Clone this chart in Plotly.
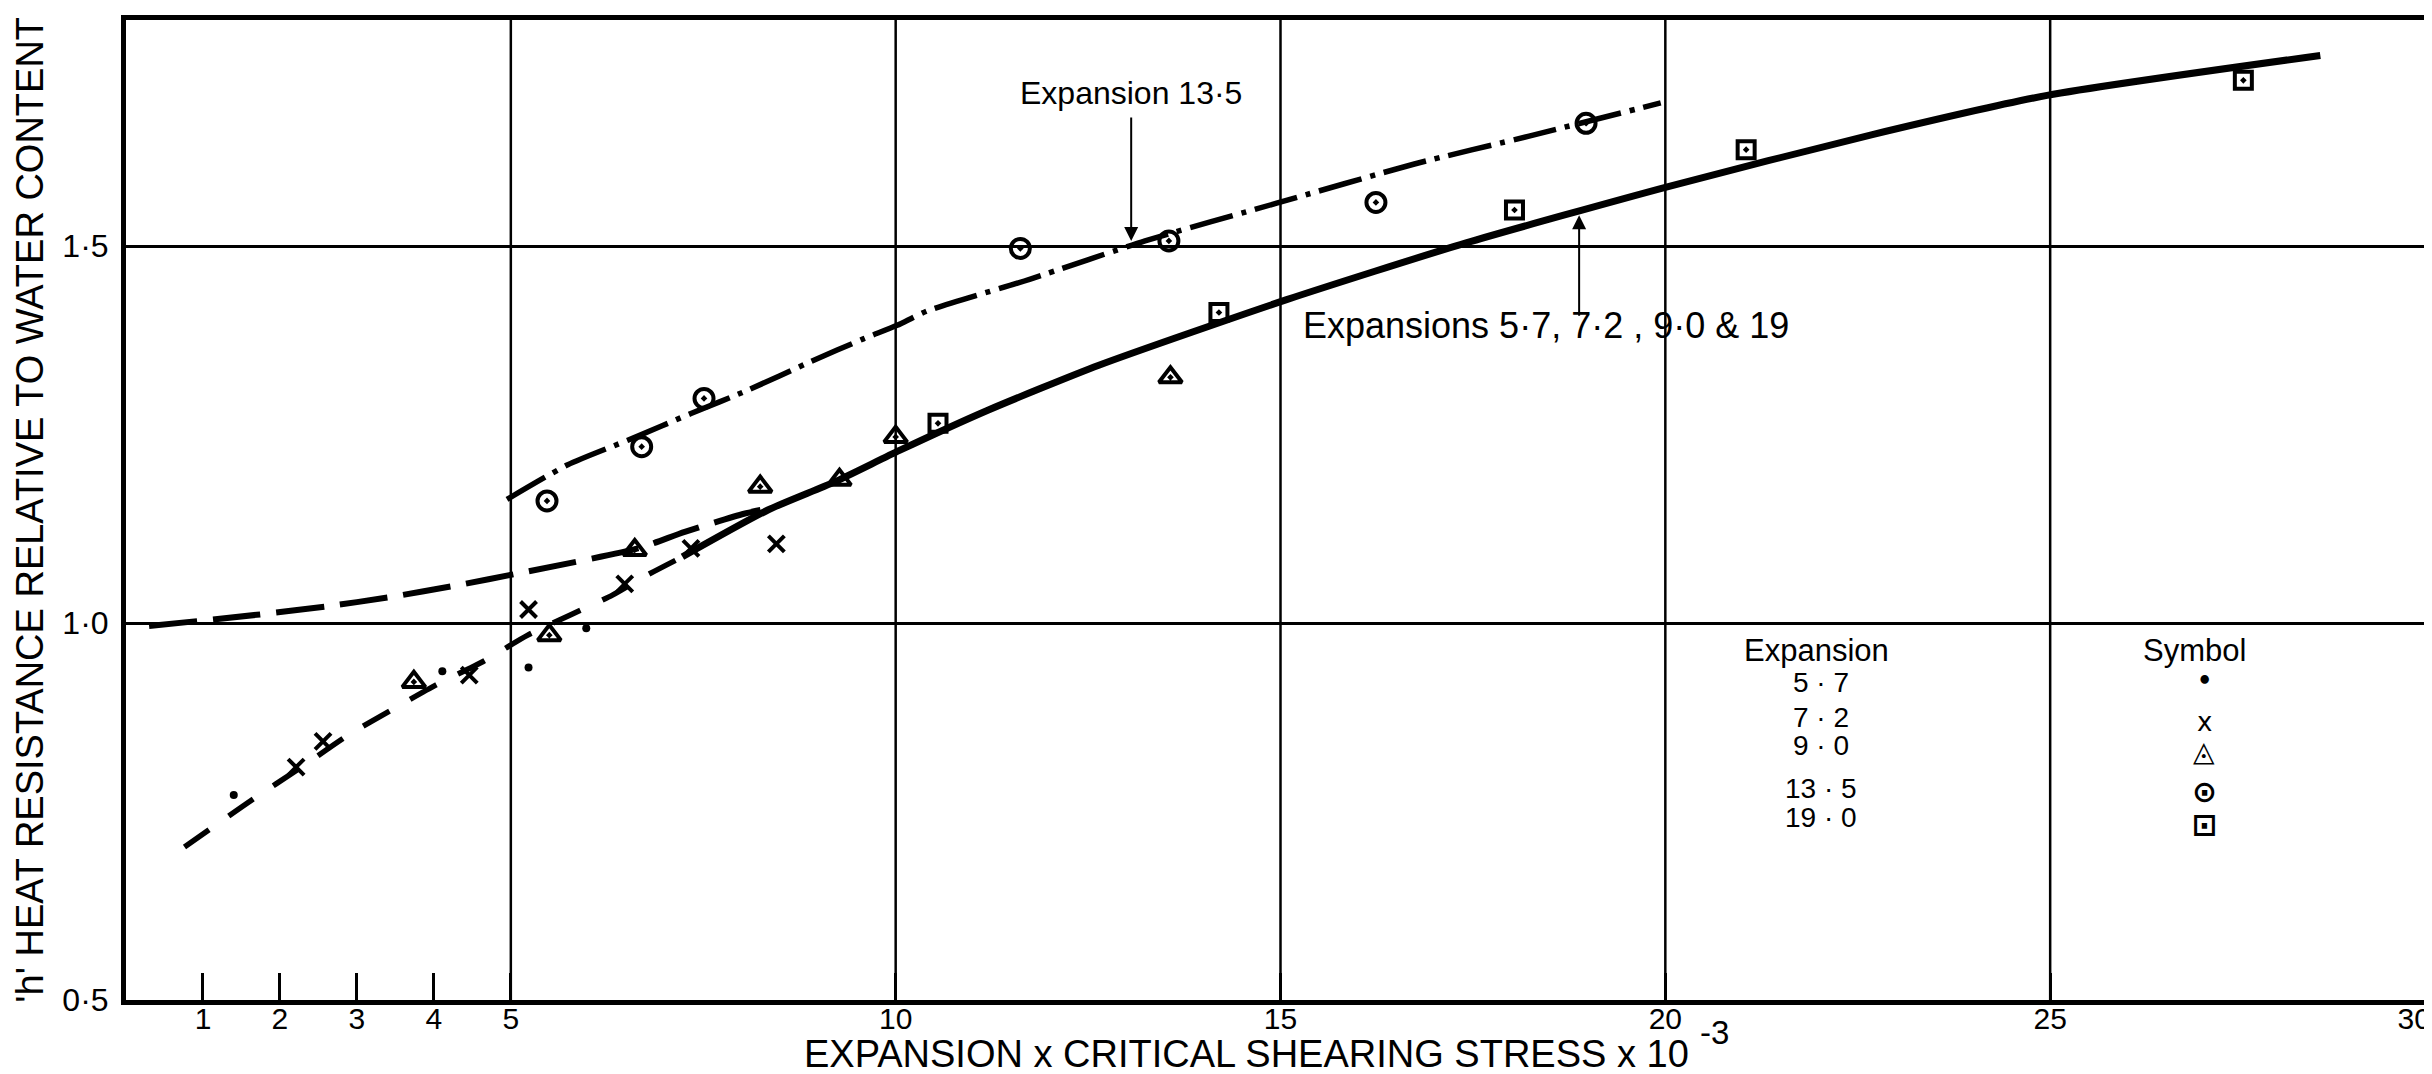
import plotly.graph_objects as go

# ---------------- data ----------------
# Curves
upper_dash_x = [0.3, 1.7, 2.6, 3.4, 4.3, 5.1, 6.65, 7.26, 8.03, 8.34]
upper_dash_y = [0.996, 1.011, 1.022, 1.034, 1.050, 1.066, 1.099, 1.121, 1.145, 1.152]

lower_dash_x = [0.76, 1.63, 2.28, 2.88, 3.47, 4.03, 4.64, 5.22, 6.32, 6.74, 7.23]
lower_dash_y = [0.703, 0.765, 0.809, 0.851, 0.886, 0.918, 0.949, 0.984, 1.037, 1.062, 1.088]

solid_x = [7.23, 8.34, 9.20, 10.05, 11.19, 12.64, 15.08, 17.40, 20.0, 22.69, 24.96, 28.51]
solid_y = [1.088, 1.150, 1.187, 1.229, 1.282, 1.342, 1.429, 1.504, 1.578, 1.648, 1.700, 1.753]

dashdot_x = [4.95, 5.74, 6.58, 7.34, 8.08, 8.9, 9.58, 10.02, 10.41, 11.74, 13.24, 14.95, 16.74, 18.23, 19.94]
dashdot_y = [1.164, 1.21, 1.245, 1.278, 1.309, 1.347, 1.377, 1.395, 1.414, 1.456, 1.507, 1.557, 1.609, 1.646, 1.690]

# Measured points, by expansion
exp57_x = [1.40, 4.11, 5.23, 5.98]
exp57_y = [0.772, 0.936, 0.941, 0.993]

exp72_x = [2.21, 2.56, 4.46, 5.23, 6.48, 7.34, 8.45]
exp72_y = [0.809, 0.843, 0.931, 1.018, 1.052, 1.099, 1.105]

exp90_x = [3.74, 5.50, 6.61, 8.24, 9.27, 10.0, 13.57]
exp90_y = [0.922, 0.984, 1.097, 1.181, 1.19, 1.247, 1.326]

exp135_x = [5.47, 6.70, 7.51, 11.62, 13.55, 16.24, 18.97]
exp135_y = [1.162, 1.234, 1.298, 1.497, 1.507, 1.558, 1.663]

exp190_x = [10.55, 14.20, 18.04, 21.05, 27.51]
exp190_y = [1.265, 1.412, 1.548, 1.628, 1.720]

# Axes
x_tickvals = [1, 2, 3, 4, 5, 10, 15, 20, 25, 30]
x_ticktext = ["1", "2", "3", "4", "5", "10", "15", "20", "25",
              "30\u00a0\u00a0\u00a0\u00a0\u00a0"]
x_grid = [5, 10, 15, 20, 25]
y_tickvals = [0.5, 1.0, 1.5]
y_ticktext = ["0·5", "1·0", "1·5"]

legend_expansions = ["5 · 7", "7 · 2", "9 · 0", "13 · 5", "19 · 0"]
legend_symbols = ["•", "x", "◬", "⊙", "⊡"]

# ---------------- figure ----------------
FONT = "Liberation Sans"
fig = go.Figure()

line_common = dict(color="black", shape="spline", smoothing=0.6)
fig.add_trace(go.Scatter(x=upper_dash_x, y=upper_dash_y, mode="lines",
                         line=dict(width=6, dash="48px,16px", **line_common), hoverinfo="skip"))
fig.add_trace(go.Scatter(x=lower_dash_x, y=lower_dash_y, mode="lines",
                         line=dict(width=5.5, dash="30px,24px", **line_common), hoverinfo="skip"))
fig.add_trace(go.Scatter(x=solid_x, y=solid_y, mode="lines",
                         line=dict(width=7, **line_common), hoverinfo="skip"))
fig.add_trace(go.Scatter(x=dashdot_x, y=dashdot_y, mode="lines",
                         line=dict(width=5.5, dash="44px,9px,5px,9px", **line_common), hoverinfo="skip"))

fig.add_trace(go.Scatter(x=exp57_x, y=exp57_y, mode="markers", name="5·7",
                         marker=dict(symbol="circle", size=8, color="black")))
fig.add_trace(go.Scatter(x=exp72_x, y=exp72_y, mode="markers", name="7·2",
                         marker=dict(symbol="x-thin", size=16, color="black",
                                     line=dict(width=4, color="black"))))
fig.add_trace(go.Scatter(x=exp90_x, y=exp90_y, mode="markers", name="9·0",
                         marker=dict(symbol="triangle-up-open-dot", size=20, color="black",
                                     line=dict(width=4, color="black"))))
fig.add_trace(go.Scatter(x=exp135_x, y=exp135_y, mode="markers", name="13·5",
                         marker=dict(symbol="circle-open-dot", size=19, color="black",
                                     line=dict(width=4, color="black"))))
fig.add_trace(go.Scatter(x=exp190_x, y=exp190_y, mode="markers", name="19·0",
                         marker=dict(symbol="square-open-dot", size=17, color="black",
                                     line=dict(width=4, color="black"))))

shapes = [dict(type="line", xref="x", yref="paper", x0=g, x1=g, y0=0, y1=1,
               line=dict(color="black", width=2.5), layer="below") for g in x_grid]

annotations = []
# axis titles
annotations.append(dict(text="'h' HEAT RESISTANCE RELATIVE TO WATER CONTENT",
                        xref="paper", yref="paper", x=-0.0417, y=0.500, textangle=-90,
                        xanchor="center", yanchor="middle", showarrow=False,
                        font=dict(size=38, family=FONT, color="black")))
annotations.append(dict(text="EXPANSION x CRITICAL SHEARING STRESS x 10",
                        xref="paper", yref="paper", x=0.6778, y=-0.055,
                        xanchor="right", yanchor="middle", showarrow=False,
                        font=dict(size=38, family=FONT, color="black")))
annotations.append(dict(text="-3", xref="paper", yref="paper", x=0.6810, y=-0.0335,
                        xanchor="left", yanchor="middle", showarrow=False,
                        font=dict(size=33, family=FONT, color="black")))

# curve labels with arrows
annotations.append(dict(text="Expansion 13·5", x=11.59, y=1.703, xanchor="left", yanchor="middle",
                        showarrow=False, font=dict(size=32, family=FONT, color="black")))
annotations.append(dict(text="", x=13.06, y=1.507, ax=0, ay=-125, showarrow=True,
                        arrowhead=2, arrowsize=1.4, arrowwidth=2, arrowcolor="black", standoff=0))
annotations.append(dict(text="Expansions 5·7, 7·2 , 9·0 & 19", x=15.27, y=1.395,
                        xanchor="left", yanchor="middle", showarrow=False,
                        font=dict(size=36, family=FONT, color="black")))
annotations.append(dict(text="", x=18.88, y=1.541, ax=0, ay=102, showarrow=True,
                        arrowhead=2, arrowsize=1.4, arrowwidth=2, arrowcolor="black", standoff=0))

# key table
annotations.append(dict(text="Expansion", x=21.97, y=0.963, showarrow=False,
                        font=dict(size=31, family=FONT, color="black")))
annotations.append(dict(text="Symbol", x=26.88, y=0.963, showarrow=False,
                        font=dict(size=31, family=FONT, color="black")))
row_y_text = [0.921, 0.875, 0.837, 0.781, 0.742]
row_y_sym = [0.923, 0.869, 0.829, 0.777, 0.733]
sym_sizes = [24, 26, 28, 30, 30]
sym_weights = ["bold", "normal", "bold", "bold", "bold"]
for lab, yy in zip(legend_expansions, row_y_text):
    annotations.append(dict(text=lab, x=22.02, y=yy, showarrow=False,
                            font=dict(size=28, family=FONT, color="black")))
for sym, yy, ss, ww in zip(legend_symbols, row_y_sym, sym_sizes, sym_weights):
    annotations.append(dict(text=sym, x=27.0, y=yy, showarrow=False,
                            font=dict(size=ss, family="DejaVu Sans", color="black",
                                      weight=ww)))

fig.update_layout(
    width=2432, height=1074,
    margin=dict(l=118, r=5, t=12, b=82),
    paper_bgcolor="white", plot_bgcolor="white",
    showlegend=False,
    font=dict(family=FONT, color="black"),
    shapes=shapes,
    annotations=annotations,
    xaxis=dict(range=[0, 30], tickmode="array", tickvals=x_tickvals, ticktext=x_ticktext,
               ticks="inside", ticklen=27, tickwidth=2.5, tickcolor="black",
               showgrid=False, zeroline=False, showline=True, linewidth=5,
               linecolor="black", mirror=True, tickfont=dict(size=30, family=FONT),
               ticklabelstandoff=-12, ticklabeloverflow="allow", automargin=False),
    yaxis=dict(range=[0.5, 1.8], tickmode="array", tickvals=y_tickvals, ticktext=y_ticktext,
               ticks="", showgrid=True, gridcolor="black", gridwidth=2.5,
               zeroline=False, showline=True, linewidth=5, linecolor="black", mirror=True,
               tickfont=dict(size=32, family=FONT), ticklabelstandoff=6, automargin=False),
)

fig.write_html("out.html")
